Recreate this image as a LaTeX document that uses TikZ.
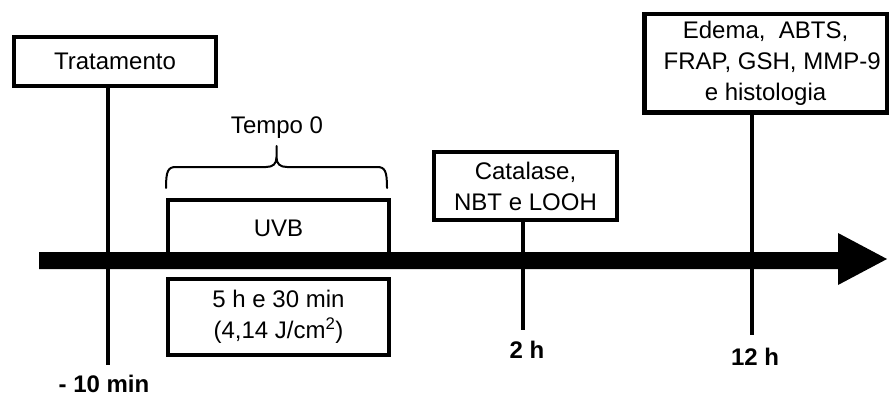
\documentclass[tikz,border=0pt]{standalone}
\usepackage{fontspec}
\setmainfont{Liberation Sans}
\begin{document}
\begin{tikzpicture}[x=1pt,y=-1pt,
  txt/.style={font=\fontsize{24}{31}\selectfont, text=black, align=center},
  boldtxt/.style={font=\fontsize{24}{31}\selectfont\bfseries, text=black},
  box/.style={draw=black, line width=4pt, rectangle, inner sep=0pt, txt},
  vline/.style={draw=black, line width=4pt},
  bracestyle/.style={draw=black, line width=2pt, line cap=round, line join=round}]
\useasboundingbox (0,0) rectangle (890,398);
% boxes
\node[box, minimum width=202pt, minimum height=49pt] (trat) at (115,61.5) {Tratamento};
\node[box, line width=3.5pt, minimum width=221pt, minimum height=56pt] (uvb) at (278.5,228) {UVB};
\node[box, line width=3.5pt, minimum width=221pt, minimum height=76pt] (dose) at (278.5,317) {5 h e 30 min\\(4,14 J/cm\textsuperscript{2})};
\node[box, minimum width=183pt, minimum height=68pt] (cat) at (525.5,186) {Catalase,\\NBT e LOOH};
\node[box, line width=4.5pt, minimum width=242.5pt, minimum height=98.5pt] (ede) at (765.5,63.5) {Edema,\ \ ABTS,\\\ \ FRAP, GSH, MMP-9\\e histologia};
% time axis arrow
\fill[black] (39,252) -- (838,252) -- (838,233) -- (887,259) -- (838,285) -- (838,269) -- (39,269) -- cycle;
% vertical ticks
\coordinate (t0) at (108,365);
\coordinate (t2) at (523,330);
\coordinate (t12) at (752,335);
\draw[vline] (trat.south -| t0) -- (t0);
\draw[vline] (cat.south -| t2) -- (t2);
\draw[vline] (ede.south -| t12) -- (t12);
% labels
\node[boldtxt, anchor=base] (lm10) at (104,392) {- 10 min};
\node[boldtxt] (l2) at (527,350) {2 h};
\node[boldtxt] (l12) at (755,357) {12 h};
\node[txt] (tempo) at (277,128) {Tempo 0};
% brace
\draw[bracestyle] (166,188) .. controls (166,171) and (168,167) .. (176,167)
  -- (266,167) .. controls (273,167) and (276.5,164) .. (276.5,157) -- (276.5,146)
  (276.5,157) .. controls (276.5,164) and (280,167) .. (287,167)
  -- (377,167) .. controls (385,167) and (387,171) .. (387,188);
\end{tikzpicture}
\end{document}
